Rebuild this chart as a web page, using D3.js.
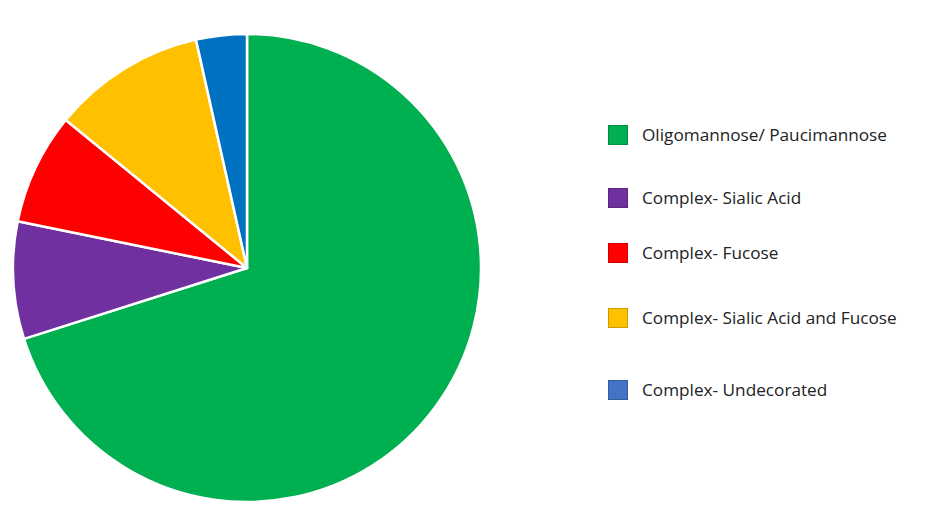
<!DOCTYPE html>
<html><head><meta charset="utf-8">
<script src="https://cdn.jsdelivr.net/npm/d3@7"></script>
<style>body{margin:0;background:#fff}svg{display:block}</style>
</head><body>
<svg id="c" width="925" height="515"></svg>
<script>
const categories = ["Oligomannose/ Paucimannose","Complex- Sialic Acid","Complex- Fucose","Complex- Sialic Acid and Fucose","Complex- Undecorated"];
const values = [70.1, 8.1, 7.7, 10.6, 3.5];
const sliceColors = ["#00B050","#7030A0","#FF0000","#FFC000","#0070C0"];
const legendColors = ["#00B050","#7030A0","#FF0000","#FFC000","#4472C4"];
const legendY = [135, 198, 253, 318, 390];

const svg = d3.select("#c");
const cx = 247, cy = 268, r = 234;
const pie = d3.pie().sort(null).value(d => d)(values);
const arc = d3.arc().innerRadius(0).outerRadius(r);
const g = svg.append("g").attr("transform", `translate(${cx},${cy})`);
g.selectAll("path").data(pie).join("path")
  .attr("d", arc)
  .attr("fill", (d,i) => sliceColors[i])
  .attr("stroke", "#fff").attr("stroke-width", 2.5).attr("stroke-linejoin","round");

const lg = svg.append("g");
categories.forEach((c,i) => {
  lg.append("rect").attr("x", 608.5).attr("y", legendY[i]-9.5).attr("width", 19).attr("height", 19)
    .attr("fill", legendColors[i]).attr("stroke", d3.color(legendColors[i]).darker(0.6)).attr("stroke-width", 1);
  lg.append("text").attr("x", 642).attr("y", legendY[i]).attr("dy", "0.36em")
    .attr("font-family", "Open Sans, sans-serif").attr("font-size", 17.2).attr("fill", "#222")
    .text(c);
});
</script>
</body></html>
